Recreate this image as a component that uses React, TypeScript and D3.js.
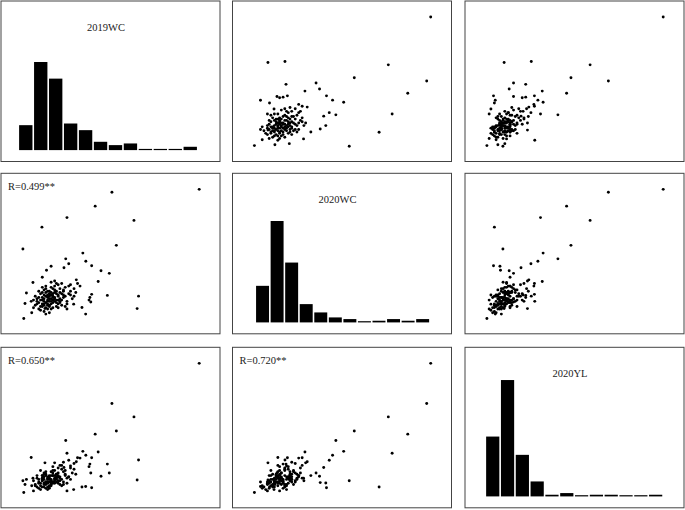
import React from "react";
import * as d3 from "d3";

const VAR_NAMES = ["2019WC", "2020WC", "2020YL"];

// Each index is one sample; values are in relative units (no axes shown).
const wc2019 = [
  100, 64.8, 65.6, 63, 53, 50.5, 41, 25, 10.8, 0, 34, 49, 44.3, 47.9, 42.7, 35.7, 24.3, 39, 23.3, 16, 13.4, 11, 30.3, 4.7, 35.6, 0.5, 33.5, 38.5, 37.5, 38, 39, 28.8, 25, 12.5, 23, 27, 29, 31, 32.4, 26, 5.7, 1.2, 2,
  16, 12, 18, 14, 20, 10, 15, 22, 13, 17, 19, 11, 14, 21, 16, 9, 18, 24, 12, 15, 17, 13, 20, 8, 23, 15, 19, 11, 14, 26,
  17, 10, 16, 21, 13, 18, 12, 7, 25, 15, 20, 14, 9, 17, 22, 11, 16, 19, 13, 6, 23, 18, 12, 15, 21, 10, 27, 14, 17, 8,
  20, 16, 24, 11, 19, 13, 15, 22, 9, 18, 12, 28, 16, 14, 20, 7, 17, 25, 11, 19, 13, 23, 15, 10, 21, 29, 12, 18, 14, 16,
  9, 26, 15, 20, 12, 17, 8, 22, 30, 14, 19, 6, 24, 13, 27, 5, 18, 11, 16, 21,
];
const wc2020 = [
  100, 6.3, 16.1, 75.6, 56, 97.7, 86.8, 77.8, 70.3, 53.1, 49.9, 34, 36, 16.7, 27.6, 43.5, 45.4, 40, 38.4, 39.6, 36.4, 31, 28.9, 12, 2, -1.5, 7.2, 11.5, 13, 15, 17.5, 9.8, 6, 6.3, 20, 17, 22, 26, 24, 41.6, 26.8, 10.3, 18.6,
  14, 10, 15, 12, 17, 8, 18, 13, 16, 11, 20, 13, 9, 19, 6, 11, 12, 16, 17, 14, 22, 7, 10, 14, 21, 12, 8, 19, 15, 18,
  16, 5, 23, 14, 11, 19, 4, 9, 12, 9, 25, 20, 15, 7, 18, 10, 17, 13, 22, 7, 15, 24, 14, 3, 11, 18, 20, 6, 13, 12,
  16, 10, 23, 8, 26, 19, 16, 9, 6, 21, 12, 14, 27, 13, 7, 16, 18, 10, 15, 11, 24, 17, 20, 13, 22, 16, 9, 14, 17, 12,
  20, 24, 8, 13, 21, 15, 10, 26, 19, 10, 18, 13, 8, 2, 25, 3, 28, 23, 19, 12,
];
const yl2020 = [
  100, 8.6, 24.2, 58, 47, 68.5, 44.5, 29.5, 3, 7.9, 31, 14, 11.5, 21, 30.5, 28, 39.5, 2.5, 18.3, 6.2, 6.5, 12, 22.8, 26.2, 3.5, -1.3, 3, 14, 19, 21, 26, 1, 0, 22, 22.5, 19.5, 21.5, 26, 25.7, 24, 10, 5, 9,
  8, 6, 9, 7, 11, 4, 10, 9, 5, 12, 13, 8, 3, 10, 5, 7, 6, 12, 9, 11, 14, 2, 8, 10, 15, 4, 7, 12, 6, 11,
  16, 1, 9, 5, 13, 8, 3, 5, 10, 9, 14, 11, 2, 6, 17, 10, 4, 13, 7, 8, 7, 12, 14, 2, 11, 6, 9, 7, 12, 12,
  18, 7, 13, 9, 10, 15, 3, 4, 6, 16, 11, 14, 8, 10, 12, 4, 19, 6, 8, 9, 12, 5, 7, 16, 8, 17, 13, 10, 1, 15,
  9, 11, 12, 6, 5, 7, 3, 20, 13, 9, 11, 0, 16, 7, 18, 4, 22, 10, 12, 20,
];

// Histogram bin counts (12 equal-width bins per variable)
const hist2019WC = [15, 53, 43, 16, 12, 5, 3, 4, 0, 0, 0, 2];
const hist2020WC = [22, 61, 36, 11, 6, 3, 2, 0, 1, 2, 1, 2];
const hist2020YL = [36, 70, 25, 9, 1, 2, 0, 1, 1, 0, 0, 1];
// First break and break width of each histogram, in variable units
const histStart = [-2.6, -1.0, -2.2];
const histStep = [8.48, 8.38, 8.51];

// Correlation labels for the lower panels: [row, col, text]
const corrRows = [1, 2, 2];
const corrCols = [0, 0, 1];
const corrText = ["R=0.499**", "R=0.650**", "R=0.720**"];

export default function App() {
  const width = 685;
  const height = 510;
  const colX = [1, 232.5, 465];
  const rowY = [1, 173.3, 347.3];
  const pw = 219;
  const ph = 160.5;
  const vars = [wc2019, wc2020, yl2020];
  const hists = [hist2019WC, hist2020WC, hist2020YL];
  const font = "'Liberation Serif', 'Times New Roman', Times, serif";

  const xScales = vars.map((v, i) =>
    d3
      .scaleLinear()
      .domain(d3.extent(v) as [number, number])
      .range([colX[i] + 0.1 * pw, colX[i] + 0.905 * pw])
  );
  const yScales = vars.map((v, i) =>
    d3
      .scaleLinear()
      .domain(d3.extent(v) as [number, number])
      .range([rowY[i] + 0.905 * ph, rowY[i] + 0.1 * ph])
  );
  const maxCount = d3.max(hists.flat()) as number;
  const hScales = vars.map((_, i) =>
    d3
      .scaleLinear()
      .domain([0, maxCount])
      .range([rowY[i] + 0.929 * ph, rowY[i] + 0.204 * ph])
  );

  const panels: React.ReactNode[] = [];
  for (let r = 0; r < 3; r++) {
    for (let c = 0; c < 3; c++) {
      const key = `${r}-${c}`;
      const content: React.ReactNode[] = [];
      if (r === c) {
        const xs = xScales[c];
        const ys = hScales[r];
        hists[c].forEach((cnt, k) => {
          const e0 = histStart[c] + k * histStep[c];
          const e1 = e0 + histStep[c];
          const x0 = xs(e0) + 0.8;
          const w = xs(e1) - xs(e0) - 1.6;
          const top = ys(cnt);
          const base = ys(0);
          const h = Math.max(base - top, 1.2);
          content.push(
            <rect key={`b${k}`} x={x0} y={base - h} width={w} height={h} fill="#000" />
          );
        });
        content.push(
          <text
            key="t"
            x={colX[c] + pw / 2 - 4.5}
            y={rowY[r] + 29.5}
            textAnchor="middle"
            fontFamily={font}
            fontSize={10.5}
            fill="#222"
          >
            {VAR_NAMES[c]}
          </text>
        );
      } else {
        const xs = xScales[c];
        const ys = yScales[r];
        const xv = vars[c];
        const yv = vars[r];
        xv.forEach((v, k) => {
          content.push(
            <circle key={`p${k}`} cx={xs(v)} cy={ys(yv[k])} r={1.45} fill="#000" />
          );
        });
        corrText.forEach((t, k) => {
          if (corrRows[k] === r && corrCols[k] === c) {
            content.push(
              <text
                key={`r${k}`}
                x={colX[c] + 7}
                y={rowY[r] + 17}
                fontFamily={font}
                fontSize={10.5}
                fill="#222"
              >
                {t}
              </text>
            );
          }
        });
      }
      panels.push(
        <g key={key}>
          <rect
            x={colX[c]}
            y={rowY[r]}
            width={pw}
            height={ph}
            fill="#fff"
            stroke="#444"
            strokeWidth={1}
          />
          {content}
        </g>
      );
    }
  }

  return (
    <svg
      width={width}
      height={height}
      style={{ position: "absolute", left: 0, top: 0, background: "#fff" }}
    >
      {panels}
    </svg>
  );
}
